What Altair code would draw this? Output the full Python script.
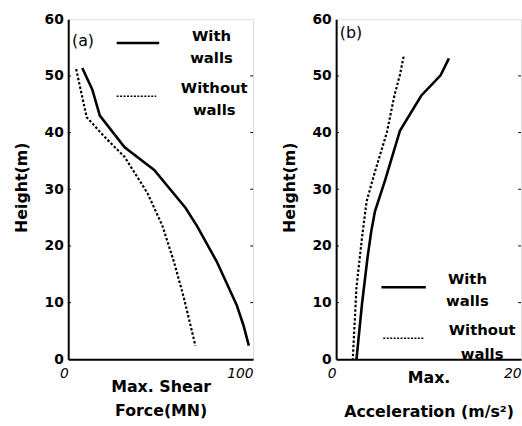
import altair as alt
import pandas as pd

FONT = "DejaVu Sans"

# ---------- Panel (a): Max. shear force ----------
a_with_force = [7.6, 13.0, 17.1, 30.5, 46.5, 63.5, 69.7, 80.4, 91.1, 94.7, 97.7]
a_with_height = [51.4, 47.6, 43.0, 37.4, 33.4, 26.7, 23.5, 17.2, 9.6, 6.1, 2.4]
a_without_force = [4.3, 7.3, 10.0, 19.8, 30.5, 42.9, 51.0, 57.2, 62.6, 68.8]
a_without_height = [51.2, 46.7, 42.7, 39.2, 35.7, 29.3, 23.5, 17.2, 10.8, 2.4]

# ---------- Panel (b): Max. acceleration ----------
b_with_acc = [12.2, 11.3, 9.2, 6.9, 5.3, 4.2, 3.8, 3.4, 2.8, 2.2]
b_with_height = [53.1, 50.1, 46.5, 40.3, 31.6, 26.1, 22.6, 18.0, 9.8, 0.0]
b_without_acc = [7.3, 6.9, 6.3, 5.5, 4.2, 3.3, 2.8, 2.2, 1.8]
b_without_height = [53.4, 50.2, 46.5, 40.1, 33.1, 27.9, 21.5, 12.7, 0.0]

y_ticks = [0, 10, 20, 30, 40, 50, 60]
a_x_ticks = [0, 100]
b_x_ticks = [0, 20]

# legend/annotation placement in data units
a_legend_lines = {"x": [26.2, 26.2], "x2": [49.2, 47.6], "y": [55.8, 46.4], "dash": ["solid", "dot"]}
a_legend_text = {"t": ["With", "walls", "Without", "walls"], "x": [77.5, 77.5, 79.0, 79.0], "y": [57.0, 53.2, 47.8, 44.0]}
a_label = {"t": ["(a)"], "x": [8.0], "y": [56.2]}
b_legend_lines = {"x": [4.9, 5.1], "x2": [9.7, 9.5], "y": [12.7, 3.7], "dash": ["solid", "dot"]}
b_legend_text = {"t": ["With", "walls", "Without", "walls"], "x": [14.2, 14.2, 15.8, 15.8], "y": [14.1, 10.3, 5.2, 1.0]}
b_label = {"t": ["(b)"], "x": [1.6], "y": [57.6]}

# small inward frame ticks
side_ticks = [10, 20, 30, 40, 50]


def line_df(xs, ys):
    return pd.DataFrame({"x": xs, "y": ys, "i": list(range(len(xs)))})


def panel(with_x, with_y, without_x, without_y, xdom, xticks, xtitle, xlh, xtitleY,
          leg_lines, leg_text, lab, label_align):
    xs = alt.Scale(domain=xdom, nice=False, zero=False)
    ys = alt.Scale(domain=[0, 60], nice=False)
    xaxis = alt.Axis(values=xticks, title=xtitle, grid=False, ticks=False,
                     labelFont=FONT, labelFontStyle="italic", labelFontSize=14,
                     labelColor="black", labelAlign=label_align, labelPadding=7,
                     domainColor="black", domainWidth=2,
                     titleFont=FONT, titleFontSize=16, titleFontWeight="bold", titleColor="black",
                     titleLineHeight=xlh, titleBaseline="alphabetic", titleY=xtitleY)
    yaxis = alt.Axis(values=y_ticks, title="Height(m)", grid=False, ticks=False,
                     labelFont=FONT, labelFontWeight="bold", labelFontSize=14,
                     labelColor="black", labelPadding=5,
                     domainColor="black", domainWidth=2,
                     titleFont=FONT, titleFontSize=16, titleFontWeight="bold", titleColor="black",
                     titleAngle=270, titleAlign="center", titleBaseline="middle",
                     titleX=-47, titleY=170)
    solid = alt.Chart(line_df(with_x, with_y)).mark_line(color="black", strokeWidth=2.6).encode(
        x=alt.X("x:Q", scale=xs, axis=xaxis),
        y=alt.Y("y:Q", scale=ys, axis=yaxis),
        order="i:Q",
    )
    dotted = alt.Chart(line_df(without_x, without_y)).mark_line(
        color="black", strokeWidth=2.2, strokeDash=[2.5, 2]).encode(
        x=alt.X("x:Q", scale=xs), y=alt.Y("y:Q", scale=ys), order="i:Q")
    ll = pd.DataFrame(leg_lines)
    leg_solid = alt.Chart(ll[ll.dash == "solid"]).mark_rule(color="black", strokeWidth=2.6).encode(
        x=alt.X("x:Q", scale=xs), x2="x2:Q", y=alt.Y("y:Q", scale=ys))
    leg_dot = alt.Chart(ll[ll.dash == "dot"]).mark_rule(color="black", strokeWidth=1.6,
                                                        strokeDash=[2, 1.5]).encode(
        x=alt.X("x:Q", scale=xs), x2="x2:Q", y=alt.Y("y:Q", scale=ys))
    txt = alt.Chart(pd.DataFrame(leg_text)).mark_text(
        font=FONT, fontSize=15, fontWeight="bold", color="black", align="center", baseline="middle").encode(
        x=alt.X("x:Q", scale=xs), y=alt.Y("y:Q", scale=ys), text="t:N")
    lab_t = alt.Chart(pd.DataFrame(lab)).mark_text(
        font=FONT, fontSize=16, color="black", align="center", baseline="middle").encode(
        x=alt.X("x:Q", scale=xs), y=alt.Y("y:Q", scale=ys), text="t:N")
    span = xdom[1] - xdom[0]
    tk = pd.DataFrame({"y": side_ticks})
    right_ticks = alt.Chart(tk).mark_rule(color="black", strokeWidth=1).encode(
        x=alt.datum(xdom[1] - span * 0.015, scale=xs), x2=alt.datum(xdom[1]),
        y=alt.Y("y:Q", scale=ys))
    left_ticks = alt.Chart(tk).mark_rule(color="black", strokeWidth=1).encode(
        x=alt.datum(xdom[0], scale=xs), x2=alt.datum(xdom[0] + span * 0.015),
        y=alt.Y("y:Q", scale=ys))
    return alt.layer(solid, dotted, leg_solid, leg_dot, txt, lab_t, right_ticks, left_ticks).properties(
        width=187, height=344)


pa = panel(a_with_force, a_with_height, a_without_force, a_without_height,
           [0, 100], a_x_ticks, ["Max. Shear", "Force(MN)"], 24, 33,
           a_legend_lines, a_legend_text, a_label, "right")
pb = panel(b_with_acc, b_with_height, b_without_acc, b_without_height,
           [0, 20], b_x_ticks, ["Max.", "Acceleration (m/s\u00b2)"], 35, 23,
           b_legend_lines, b_legend_text, b_label, "right")

chart = alt.hconcat(pa, pb, spacing=26).properties(
    padding={"left": 13, "top": 9, "right": 0, "bottom": 0}
).configure_view(stroke="black", strokeWidth=1.5).configure(background="white")

chart.save("out.html", embed_options={"renderer": "svg", "actions": False})
